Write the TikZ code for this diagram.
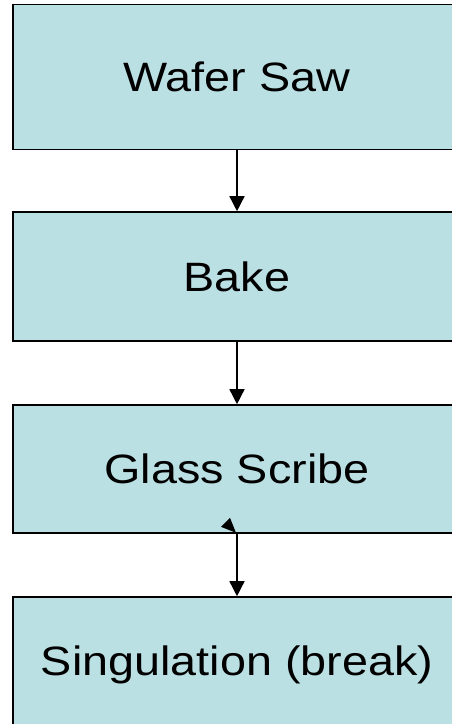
\documentclass[tikz,border=0pt]{standalone}
\usepackage{fontspec}
\setmainfont{Liberation Sans}[FakeStretch=1.14]
\usetikzlibrary{arrows.meta,calc}
\definecolor{boxfill}{HTML}{BBE0E3}
\tikzset{
  stepbox/.style={draw=black, line width=1.6pt, fill=boxfill, rectangle,
    minimum width=448pt, inner sep=0pt, text height=29.4pt, text depth=0pt,
    font=\fontsize{41pt}{48pt}\selectfont},
  conn/.style={line width=1.5pt, -{Triangle[length=15pt,width=15pt]}}
}
\begin{document}
\begin{tikzpicture}[x=1pt,y=-1pt]
\useasboundingbox (0,0) rectangle (451,724);
\node[stepbox, minimum height=145pt] (a) at (237,77) {Wafer Saw};
\node[stepbox, minimum height=129pt] (b) at (237,276.5) {Bake};
\node[stepbox, minimum height=128pt] (c) at (237,469) {Glass Scribe};
\node[stepbox, minimum height=128pt] (d) at (237,661) {Singulation (break)};
\draw[conn] (a.south) -- (b.north);
\draw[conn] (b.south) -- (c.north);
\draw[conn] (c.south) -- (d.north);
\fill ($(c.south)+(-7,-16)$) -- ($(c.south)+(-16,-7)$) -- ($(c.south)+(-1,-1)$) -- cycle;
\end{tikzpicture}
\end{document}
